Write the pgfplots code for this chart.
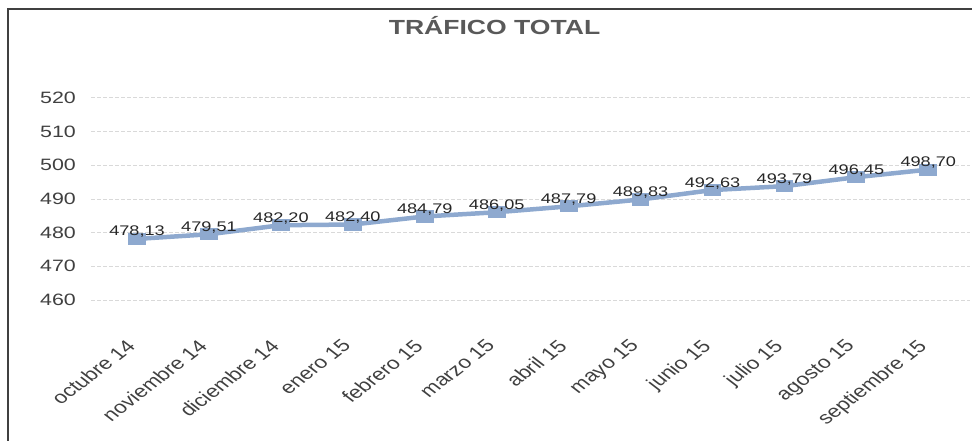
\documentclass[border=0pt]{standalone}
\usepackage{pgfplots}
\pgfplotsset{compat=1.18}
\usepackage{fontspec}
\setmainfont{Liberation Sans}[FakeStretch=1.3]
\newfontfamily\xfont{Liberation Sans}
\definecolor{linec}{HTML}{8EA9CF}
\definecolor{titlec}{HTML}{595959}
\definecolor{tickc}{HTML}{404040}
\definecolor{gridc}{HTML}{D9D9D9}
\definecolor{framec}{HTML}{404040}
\pgfplotstableread{
x y lab
0 478.13 478,13
1 479.51 479,51
2 482.20 482,20
3 482.40 482,40
4 484.79 484,79
5 486.05 486,05
6 487.79 487,79
7 489.83 489,83
8 492.63 492,63
9 493.79 493,79
10 496.45 496,45
11 498.70 498,70
}\trafico
\begin{document}
\begin{tikzpicture}[x=1bp,y=1bp]
\useasboundingbox (0,0) rectangle (972,441);
\draw[line width=1.5bp, framec] (8,0) -- (8,432) -- (972,432);
\node[anchor=base, font=\fontsize{20.5}{24}\selectfont\bfseries, text=titlec, inner sep=0pt] at (494.5,406) {TRÁFICO TOTAL};
\begin{axis}[
  at={(91bp,107.3bp)}, anchor=south west,
  width=879bp, height=252.7bp, scale only axis,
  xmin=-0.64, xmax=11.58, ymin=450, ymax=525,
  ytick={460,470,480,490,500,510,520},
  xtick={0,...,11},
  xticklabels={octubre 14,noviembre 14,diciembre 14,enero 15,febrero 15,marzo 15,abril 15,mayo 15,junio 15,julio 15,agosto 15,septiembre 15},
  axis line style={draw=none},
  major tick length=0pt,
  ymajorgrids,
  grid style={color=gridc, line width=0.8bp, dash pattern=on 4bp off 2bp},
  /pgf/number format/assume math mode=true,
  yticklabel style={font=\fontsize{16.5}{18}\selectfont, text=tickc, anchor=east, inner sep=0pt, xshift=-15bp},
  xticklabel style={font=\xfont\fontsize{17.5}{19}\selectfont, text=tickc, anchor=north east, inner sep=1bp, xshift=-12bp, yshift=-3bp, xscale=1.3, rotate=45},
  clip=false,
]
\addplot[color=linec, line width=4.5bp, mark=square*, mark size=5.6pt,
  mark options={xscale=1.5, fill=linec, draw=linec, line width=0pt},
  nodes near coords, point meta=explicit symbolic,
  nodes near coords style={anchor=center, yshift=7bp, inner sep=0pt,
    font=\fontsize{14}{16}\selectfont, text=black!85}]
  table[x=x, y=y, meta=lab] {\trafico};
\end{axis}
\end{tikzpicture}
\end{document}
